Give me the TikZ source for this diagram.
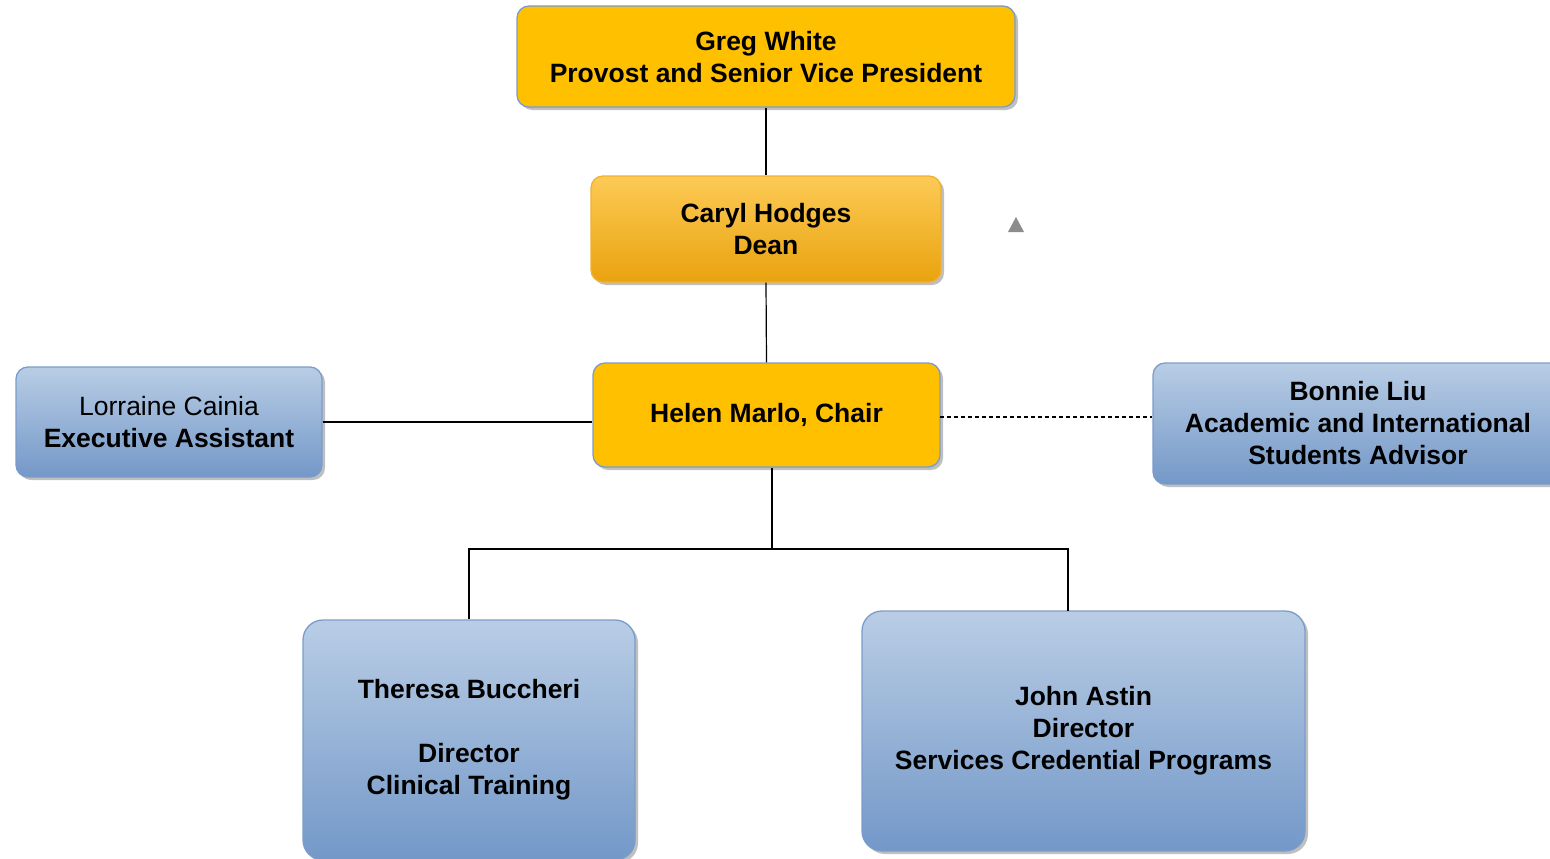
\documentclass[tikz,border=0pt]{standalone}
\usepackage{fontspec}
\setmainfont{Liberation Sans}
\usetikzlibrary{shadows}
\definecolor{gold}{HTML}{FFC000}
\definecolor{goldtop}{HTML}{FDCA56}
\definecolor{goldbot}{HTML}{E9A30E}
\definecolor{bluetop}{HTML}{B9CDE5}
\definecolor{bluebot}{HTML}{7398C8}
\definecolor{bordblue}{HTML}{7B9CCB}
\definecolor{bordgold}{HTML}{F0B030}
\definecolor{trigray}{HTML}{8C8C8C}
\tikzset{
  box/.style={draw=bordblue, line width=1.3pt, rounded corners=12pt, align=center,
    inner sep=0pt, font=\fontsize{26.5}{32}\selectfont\bfseries,
    drop shadow={shadow xshift=3pt, shadow yshift=-3pt, fill=black!50, opacity=0.5}},
  goldbox/.style={box, fill=gold},
  gradgold/.style={box, draw=bordgold, top color=goldtop, bottom color=goldbot},
  bluebox/.style={box, top color=bluetop, bottom color=bluebot},
  bigblue/.style={bluebox, rounded corners=20pt},
  link/.style={draw=black, line width=1.2pt},
  dlink/.style={draw=black, line width=1.1pt, dash pattern=on 4pt off 3pt}
}
\begin{document}
\begin{tikzpicture}[x=1pt, y=-1pt]
\useasboundingbox (0,0) rectangle (1550,859);
\node[goldbox, minimum width=498pt, minimum height=101pt, text depth=0pt] (greg) at (766,56.5)
  {Greg White\\Provost and Senior Vice President};
\node[gradgold, minimum width=350pt, minimum height=106pt] (caryl) at (766,229)
  {Caryl Hodges\\Dean};
\node[goldbox, minimum width=347pt, minimum height=104pt] (helen) at (766.5,415)
  {Helen Marlo, Chair};
\node[bluebox, minimum width=306pt, minimum height=110pt] (lorraine) at (169,422)
  {\mdseries Lorraine Cainia\\Executive Assistant};
\node[bluebox, minimum width=410pt, minimum height=121pt] (bonnie) at (1358,423.5)
  {Bonnie Liu\\Academic and International\\Students Advisor};
\node[bigblue, minimum width=332pt, minimum height=240pt] (theresa) at (469,740)
  {Theresa Buccheri\\[32pt]Director\\Clinical Training};
\node[bigblue, minimum width=443pt, minimum height=240pt] (john) at (1083.5,731)
  {John Astin\\Director\\Services Credential Programs};
\fill[trigray] (1008,232) -- (1024,232) -- (1016,217) -- cycle;
\coordinate (junc) at (772,549);
\coordinate (jtop) at (1068,611);
\coordinate (hdash) at (940,417);
\draw[link] (greg.south) -- (caryl.north);
\draw[link] (caryl.south) -- (helen.north);
\draw[link] (lorraine.east) -- (lorraine.east -| helen.west);
\draw[dlink] (hdash) -- (hdash -| bonnie.west);
\draw[link] (junc |- helen.south) -- (junc);
\draw[link] (theresa.north) -- (theresa.north |- junc) -- (jtop |- junc) -- (jtop);
\end{tikzpicture}
\end{document}
